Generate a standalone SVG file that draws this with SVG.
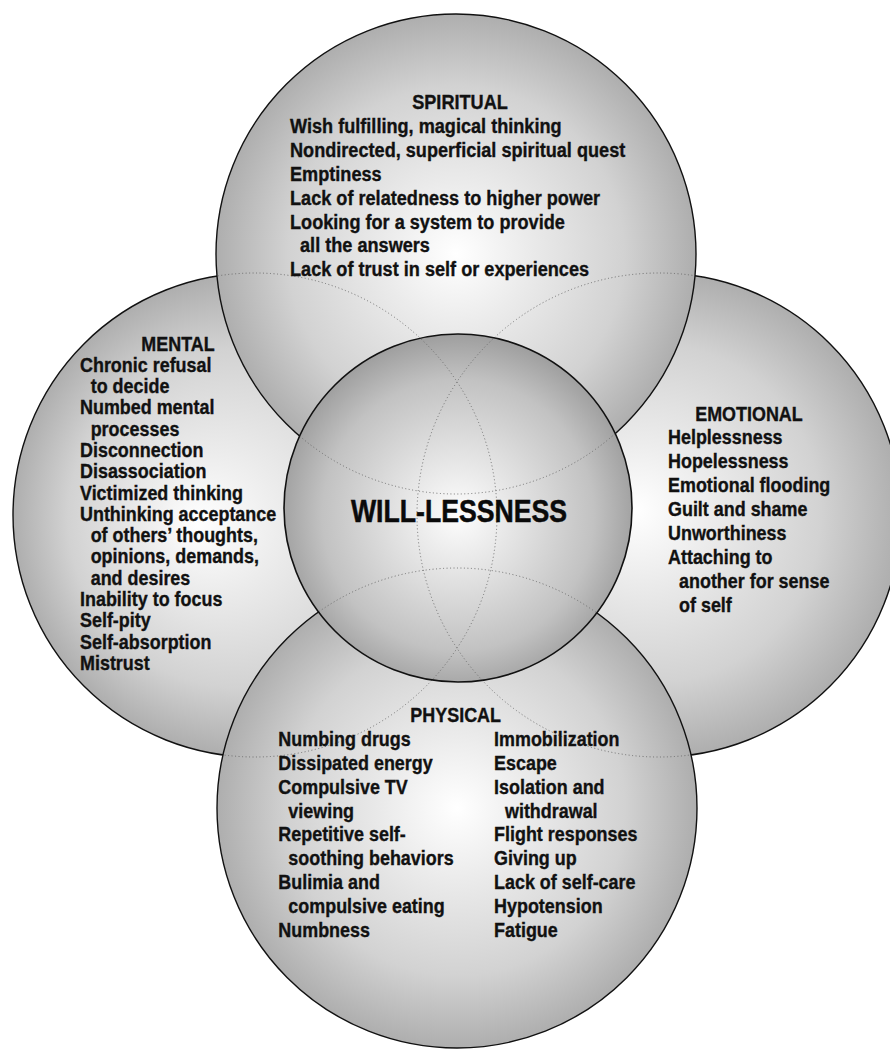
<svg xmlns="http://www.w3.org/2000/svg" width="890" height="1055" viewBox="0 0 890 1055">
<defs>
<radialGradient id="g-big" cx="50%" cy="50%" r="50%">
<stop offset="0" stop-color="#ffffff"/>
<stop offset="0.3" stop-color="#ebebeb"/>
<stop offset="0.7" stop-color="#d2d2d2"/>
<stop offset="1" stop-color="#aeaeae"/>
</radialGradient>
<radialGradient id="g-left" cx="50%" cy="50%" r="50%" fx="38%" fy="52%">
<stop offset="0" stop-color="#ffffff"/>
<stop offset="0.3" stop-color="#ebebeb"/>
<stop offset="0.7" stop-color="#d2d2d2"/>
<stop offset="1" stop-color="#aeaeae"/>
</radialGradient>
<radialGradient id="g-right" cx="50%" cy="50%" r="50%" fx="45%" fy="49%">
<stop offset="0" stop-color="#ffffff"/>
<stop offset="0.3" stop-color="#ebebeb"/>
<stop offset="0.7" stop-color="#d2d2d2"/>
<stop offset="1" stop-color="#aeaeae"/>
</radialGradient>
<radialGradient id="g-center" cx="50%" cy="52%" r="52%">
<stop offset="0" stop-color="#fdfdfd"/>
<stop offset="0.4" stop-color="#dedede"/>
<stop offset="0.75" stop-color="#c2c2c2"/>
<stop offset="1" stop-color="#9e9e9e"/>
</radialGradient>
<clipPath id="clip-top"><circle cx="456" cy="254" r="240"/></clipPath>
<clipPath id="clip-bottom"><circle cx="457" cy="808" r="240"/></clipPath>
<clipPath id="clip-center"><circle cx="458" cy="508" r="174"/></clipPath>
</defs>
<style>
.big{stroke:#111;stroke-width:1.4}
.ctr{fill:url(#g-center);stroke:#111;stroke-width:1.6}
.hid{fill:none;stroke:#666;stroke-width:0.9;stroke-dasharray:1 2.5}
.t{font-family:"Liberation Sans",Arial,sans-serif;font-weight:bold;font-size:19.5px;fill:#111;stroke:#111;stroke-width:0.35}
.ttl{text-anchor:middle}
.big-t{font-family:"Liberation Sans",Arial,sans-serif;font-weight:bold;font-size:31px;fill:#0a0a0a;stroke:#0a0a0a;stroke-width:0.5;text-anchor:middle}
</style>
<rect width="890" height="1055" fill="#fff"/>

<g id="node-mental">
<circle class="big" fill="url(#g-left)" cx="255" cy="515" r="242"/>
<g class="t" transform="matrix(0.92 0 0 1 80 0)">
<text class="ttl" x="106.5" y="351">MENTAL</text>
<text x="0" y="372">Chronic refusal</text>
<text x="11.6" y="393">to decide</text>
<text x="0" y="414.5">Numbed mental</text>
<text x="11.6" y="435.8">processes</text>
<text x="0" y="457">Disconnection</text>
<text x="0" y="478.3">Disassociation</text>
<text x="0" y="499.6">Victimized thinking</text>
<text x="0" y="521">Unthinking acceptance</text>
<text x="11.6" y="542.2">of others’ thoughts,</text>
<text x="11.6" y="563.5">opinions, demands,</text>
<text x="11.6" y="584.8">and desires</text>
<text x="0" y="606">Inability to focus</text>
<text x="0" y="627.4">Self-pity</text>
<text x="0" y="648.7">Self-absorption</text>
<text x="0" y="670">Mistrust</text>
</g>
</g>

<g id="node-emotional">
<circle class="big" fill="url(#g-right)" cx="659" cy="515" r="242"/>
<g class="t" transform="matrix(0.92 0 0 1 668 0)">
<text class="ttl" x="88" y="421">EMOTIONAL</text>
<text x="0" y="444.5">Helplessness</text>
<text x="0" y="468.4">Hopelessness</text>
<text x="0" y="492.3">Emotional flooding</text>
<text x="0" y="516.1">Guilt and shame</text>
<text x="0" y="540">Unworthiness</text>
<text x="0" y="564.2">Attaching to</text>
<text x="12" y="588.2">another for sense</text>
<text x="12" y="611.8">of self</text>
</g>
</g>

<g id="node-spiritual">
<circle class="big" fill="url(#g-big)" cx="456" cy="254" r="240"/>
<g clip-path="url(#clip-top)">
<circle class="hid" cx="255" cy="515" r="242"/>
<circle class="hid" cx="659" cy="515" r="242"/>
</g>
<g class="t" transform="matrix(0.93 0 0 1 290 0)">
<text class="ttl" x="182.8" y="109.5">SPIRITUAL</text>
<text x="0" y="133.3">Wish fulfilling, magical thinking</text>
<text x="0" y="157.2">Nondirected, superficial spiritual quest</text>
<text x="0" y="181">Emptiness</text>
<text x="0" y="204.8">Lack of relatedness to higher power</text>
<text x="0" y="228.6">Looking for a system to provide</text>
<text x="10.8" y="252.4">all the answers</text>
<text x="0" y="276.2">Lack of trust in self or experiences</text>
</g>
</g>

<g id="node-physical">
<circle class="big" fill="url(#g-big)" cx="457" cy="808" r="240"/>
<g clip-path="url(#clip-bottom)">
<circle class="hid" cx="255" cy="515" r="242"/>
<circle class="hid" cx="659" cy="515" r="242"/>
</g>
<g class="t" transform="matrix(0.92 0 0 1 278.3 0)">
<text class="ttl" x="192.8" y="721.7">PHYSICAL</text>
<text x="0" y="745.7">Numbing drugs</text>
<text x="0" y="769.7">Dissipated energy</text>
<text x="0" y="793.6">Compulsive TV</text>
<text x="10.9" y="817.6">viewing</text>
<text x="0" y="841.5">Repetitive self-</text>
<text x="10.9" y="865.5">soothing behaviors</text>
<text x="0" y="889.4">Bulimia and</text>
<text x="10.9" y="913.4">compulsive eating</text>
<text x="0" y="937.3">Numbness</text>
<text x="234.5" y="745.7">Immobilization</text>
<text x="234.5" y="769.7">Escape</text>
<text x="234.5" y="793.6">Isolation and</text>
<text x="246.4" y="817.6">withdrawal</text>
<text x="234.5" y="841.5">Flight responses</text>
<text x="234.5" y="865.5">Giving up</text>
<text x="234.5" y="889.4">Lack of self-care</text>
<text x="234.5" y="913.4">Hypotension</text>
<text x="234.5" y="937.3">Fatigue</text>
</g>
</g>

<g id="node-center">
<circle class="ctr" cx="458" cy="508" r="174"/>
<g id="hidden-edges" clip-path="url(#clip-center)">
<circle class="hid" cx="255" cy="515" r="242"/>
<circle class="hid" cx="659" cy="515" r="242"/>
<circle class="hid" cx="456" cy="254" r="240"/>
<circle class="hid" cx="457" cy="808" r="240"/>
</g>
<text class="big-t" transform="matrix(0.86 0 0 1 459 0)" x="0" y="521.7">WILL-LESSNESS</text>
</g>
</svg>
